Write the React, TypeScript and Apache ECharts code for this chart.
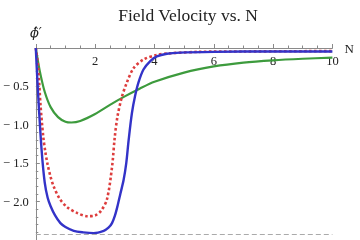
import React, { useEffect, useRef } from "react";
import * as echarts from "echarts";

const titleText = "Field Velocity vs. N";
const xTicks = [0, 2, 4, 6, 8, 10];

const nGreen = [0, 0.05, 0.15, 0.3, 0.5, 0.75, 1.0, 1.2, 1.5, 2.0, 2.5, 3.0, 3.5, 4.0, 5.0, 6.0, 7.0, 8.0, 9.0, 10.0];
const phiGreen = [0, -0.12, -0.33, -0.57, -0.77, -0.9, -0.96, -0.97, -0.95, -0.86, -0.74, -0.63, -0.53, -0.44, -0.32, -0.24, -0.19, -0.16, -0.14, -0.125];

const nRed = [0, 0.08, 0.16, 0.25, 0.32, 0.4, 0.5, 0.6, 0.8, 1.05, 1.4, 1.75, 2.0, 2.2, 2.4, 2.57, 2.66, 2.75, 2.9, 3.07, 3.3, 3.63, 4.08, 4.5, 5.5, 7, 10];
const phiRed = [0, -0.25, -0.75, -1.15, -1.35, -1.52, -1.68, -1.8, -1.96, -2.07, -2.15, -2.19, -2.18, -2.12, -1.97, -1.55, -1.17, -0.9, -0.64, -0.45, -0.26, -0.15, -0.09, -0.07, -0.05, -0.045, -0.04];

const nBlue = [0, 0.05, 0.1, 0.2, 0.3, 0.4, 0.5, 0.65, 0.83, 1.0, 1.28, 1.6, 1.95, 2.29, 2.45, 2.57, 2.67, 2.76, 2.85, 2.96, 3.05, 3.13, 3.24, 3.35, 3.46, 3.63, 3.86, 4.08, 4.42, 4.87, 6, 8, 10];
const phiBlue = [0, -0.4, -0.75, -1.35, -1.75, -1.95, -2.06, -2.18, -2.28, -2.33, -2.38, -2.4, -2.41, -2.38, -2.34, -2.28, -2.18, -2.05, -1.9, -1.72, -1.5, -1.2, -0.85, -0.62, -0.45, -0.28, -0.17, -0.11, -0.075, -0.06, -0.05, -0.045, -0.045];

const asymptote = -2.43;

const zip = (xs: number[], ys: number[]) => xs.map((x, i) => [x, ys[i]]);

export default function App() {
  const ref = useRef<HTMLDivElement>(null);
  useEffect(() => {
    if (!ref.current) return;
    const chart = echarts.init(ref.current, undefined, { renderer: "svg" });
    const serif = "Liberation Serif";
    const axisColor = "#8a8a8a";
    chart.setOption({
      animation: false,
      title: {
        text: titleText,
        left: 183,
        textAlign: "center",
        top: 1,
        textStyle: { fontFamily: serif, fontSize: 17.5, fontWeight: "normal", color: "#222" },
      },
      grid: { left: 35.4, right: 27.6, top: 48, bottom: -6, containLabel: false },
      xAxis: {
        type: "value",
        min: 0,
        max: 10,
        interval: 2,
        position: "top",
        name: "N",
        nameLocation: "end",
        nameGap: 12,
        nameTextStyle: { fontFamily: serif, fontSize: 13, color: "#222" },
        axisLine: { onZero: true, lineStyle: { color: axisColor, width: 1 } },
        axisTick: { show: true, inside: false, length: 4, lineStyle: { color: axisColor } },
        minorTick: { show: true, splitNumber: 4, length: 2.5, lineStyle: { color: axisColor } },
        axisLabel: {
          inside: true,
          margin: 6,
          fontFamily: serif,
          fontSize: 12.5,
          color: "#222",
          formatter: (v: number) => (v === 0 || !xTicks.includes(v) ? "" : String(v)),
        },
        splitLine: { show: false },
      },
      yAxis: {
        type: "value",
        min: -2.5,
        max: 0,
        interval: 0.5,
        name: "\u03D5\u0302\u2032",
        nameLocation: "end",
        nameGap: 9,
        nameTextStyle: { fontFamily: "DejaVu Serif", fontSize: 13, fontStyle: "italic", color: "#222", align: "center" },
        axisLine: { show: true, onZero: false, lineStyle: { color: axisColor, width: 1 } },
        axisTick: { show: true, inside: true, length: 4, lineStyle: { color: axisColor } },
        minorTick: { show: true, splitNumber: 5, length: 2.5, lineStyle: { color: axisColor } },
        axisLabel: {
          margin: 7,
          fontFamily: serif,
          fontSize: 12.5,
          color: "#222",
          formatter: (v: number) => (v === 0 || v <= -2.5 ? "" : "\u2212 " + Math.abs(v).toFixed(1)),
        },
        splitLine: { show: false },
      },
      series: [
        {
          type: "line",
          data: zip(nGreen, phiGreen),
          smooth: 0.3,
          showSymbol: false,
          lineStyle: { color: "#3d9b3d", width: 2.2 },
          itemStyle: { color: "#3d9b3d" },
          z: 2,
          markLine: {
            silent: true,
            symbol: ["none", "none"],
            label: { show: false },
            lineStyle: { color: "#aaaaaa", type: [5, 3], width: 1.2 },
            data: [{ yAxis: asymptote }],
          },
        },
        {
          type: "line",
          data: zip(nRed, phiRed),
          smooth: 0.3,
          showSymbol: false,
          lineStyle: { color: "#dd3d3d", width: 2.6, type: [2.6, 2.4] },
          itemStyle: { color: "#dd3d3d" },
          z: 3,
        },
        {
          type: "line",
          data: zip(nBlue, phiBlue),
          smooth: 0.3,
          showSymbol: false,
          lineStyle: { color: "#3333c8", width: 2.4 },
          itemStyle: { color: "#3333c8" },
          z: 4,
        },
      ],
    });
    return () => chart.dispose();
  }, []);
  return <div ref={ref} style={{ position: "fixed", left: 0, top: 0, width: 360, height: 240 }} />;
}
